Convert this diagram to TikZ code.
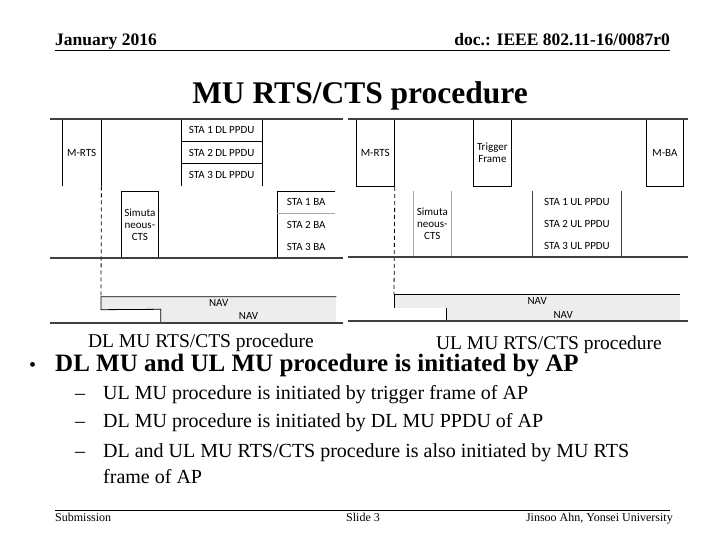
\documentclass[tikz,border=0pt]{standalone}
\usepackage{fontspec}
\setmainfont{Liberation Serif}
\newfontfamily\diafont{Carlito}
\usetikzlibrary{positioning}
\definecolor{timeline}{HTML}{404040}
\definecolor{navgray}{HTML}{EDEDED}
\definecolor{ctsgray}{HTML}{A6A6A6}
\tikzset{
  frm/.style={font=\diafont\fontsize{11}{12}\selectfont,align=center,inner sep=0pt,anchor=north west},
  navbox/.style={frm,fill=navgray},
  tline/.style={timeline,line width=1.6pt},
  boxline/.style={line width=0.8pt},
  slidetext/.style={inner sep=0pt,anchor=base west},
  subtext/.style={slidetext,font=\fontsize{20}{24}\selectfont},
}

\begin{document}
\begin{tikzpicture}[x=1pt,y=-1pt]
\useasboundingbox (0,0) rectangle (720,540);
\node[slidetext,font=\bfseries\fontsize{17.5}{20}\selectfont] (date) at (55,46) {January 2016};
\node[slidetext,anchor=base east,font=\bfseries\fontsize{17.5}{20}\selectfont] (docid) at (670,46) {doc.: IEEE 802.11-16/0087r0};
\draw[line width=0.8pt] (55,50) -- (670,50);
\node[font=\bfseries\fontsize{31.5}{36}\selectfont] (title) at (360,96) {MU RTS/CTS procedure};

% DL MU RTS/CTS
\node[frm,minimum width=39pt,minimum height=67pt] (dlrts) at (62,119) {M-RTS};
\draw[boxline] (dlrts.south west) -- (dlrts.north west) (dlrts.north east) -- (dlrts.south east);
\foreach \i/\yy in {1/119,2/141.3,3/163.7}
  \node[frm,minimum width=81pt,minimum height=22.3pt] (dlppdu\i) at (181,\yy) {STA \i{} DL PPDU};
\draw[boxline] (dlppdu3.south west) -- (dlppdu1.north west) (dlppdu1.north east) -- (dlppdu3.south east)
  (dlppdu2.north west) -- (dlppdu2.north east) (dlppdu3.north west) -- (dlppdu3.north east);
\node[frm,draw,boxline,minimum width=37pt,minimum height=66.7pt] (dlcts) at (121,191) {Simuta\\neous-\\CTS};
\foreach \i/\yy in {1/191,2/213.3,3/235.5}
  \node[frm,minimum width=58pt,minimum height=22.2pt] (dlba\i) at (277,\yy) {STA \i{} BA};
\draw[boxline] (dlba1.north east) -- (dlba1.north west) -- (dlba3.south west);
\draw[ctsgray,boxline] (dlba2.north west) -- (dlba2.north east);
\node[navbox,minimum width=235pt,minimum height=12.6pt] (dlnav1) at (101,296.7) {NAV};
\node[navbox,minimum width=175.3pt,minimum height=13.4pt] (dlnav2) at (160.7,309.3) {NAV};
\draw[boxline] (dlnav1.north east) -- (dlnav1.north west) -- (dlnav1.south west) -- (dlnav2.north west) -- (dlnav2.south west);
\draw[boxline,dash pattern=on 4pt off 3pt] (dlrts.south east) -- (dlnav1.north west);
\foreach \yy in {119,257.7,322.7} \draw[tline] (50,\yy) -- (343,\yy);

% UL MU RTS/CTS
\node[frm,draw,boxline,minimum width=38.3pt,minimum height=67pt] (ulrts) at (355.7,119) {M-RTS};
\node[frm,draw,boxline,minimum width=37.4pt,minimum height=67pt] (trig) at (473.3,119) {Trigger\\Frame};
\node[frm,draw,boxline,minimum width=37.6pt,minimum height=67pt] (ulba) at (645.7,119) {M-BA};
\node[frm,minimum width=37.7pt,minimum height=65.7pt] (ulcts) at (413.3,191) {Simuta\\neous-\\CTS};
\draw[ctsgray,boxline] (ulcts.north west) -- (ulcts.south west) (ulcts.north east) -- (ulcts.south east);
\foreach \i/\yy in {1/191,2/213,3/235}
  \node[frm,minimum width=88pt,minimum height=21.9pt] (ulppdu\i) at (532.7,\yy) {STA \i{} UL PPDU};
\draw[timeline,boxline] (ulppdu1.north west) -- (ulppdu3.south west) (ulppdu1.north east) -- (ulppdu3.south east);
\node[navbox,minimum width=286pt,minimum height=13.7pt] (ulnav1) at (394,294.3) {NAV};
\node[navbox,minimum width=234pt,minimum height=13pt] (ulnav2) at (446,308) {NAV};
\draw[boxline] (ulnav1.north east) -- (ulnav1.north west) -- (ulnav1.south west);
\draw[boxline] (ulnav2.north west) -- (ulnav2.south west);
\draw[boxline,dash pattern=on 4pt off 3pt] (ulrts.south east) -- (ulnav1.north west);
\foreach \yy in {119.3,256.7,321} \draw[tline] (348,\yy) -- (688,\yy);

\node[slidetext,anchor=base,font=\fontsize{19.5}{22}\selectfont] (dlcap) at (201,347) {DL MU RTS/CTS procedure};
\node[slidetext,anchor=base,font=\fontsize{19.5}{22}\selectfont] (ulcap) at (549,349) {UL MU RTS/CTS procedure};
\node[slidetext,font=\fontsize{20}{24}\selectfont] (mainbul) at (29,371) {\textbullet};
\node[slidetext,font=\bfseries\fontsize{25}{28}\selectfont] (main) at (55,371) {DL MU and UL MU procedure is initiated by AP};
\foreach \yy in {399,427,457}
  \node[subtext] at (75,\yy) {\textendash};
\node[subtext] (sub1) at (103,399) {UL MU procedure is initiated by trigger frame of AP};
\node[subtext] (sub2) at (103,427) {DL MU procedure is initiated by DL MU PPDU of AP};
\node[subtext] (sub3) at (103,457) {DL and UL MU RTS/CTS procedure is also initiated by MU RTS};
\node[subtext] (sub3b) at (103,483) {frame of AP};

\draw[line width=0.8pt] (55,510) -- (670,510);
\node[slidetext,font=\fontsize{12}{14}\selectfont] (subm) at (55,521) {Submission};
\node[slidetext,anchor=base,font=\fontsize{12}{14}\selectfont] (slide) at (363,521) {Slide 3};
\node[slidetext,anchor=base east,font=\fontsize{12}{14}\selectfont] (author) at (673,521) {Jinsoo Ahn, Yonsei University};
\end{tikzpicture}
\end{document}
